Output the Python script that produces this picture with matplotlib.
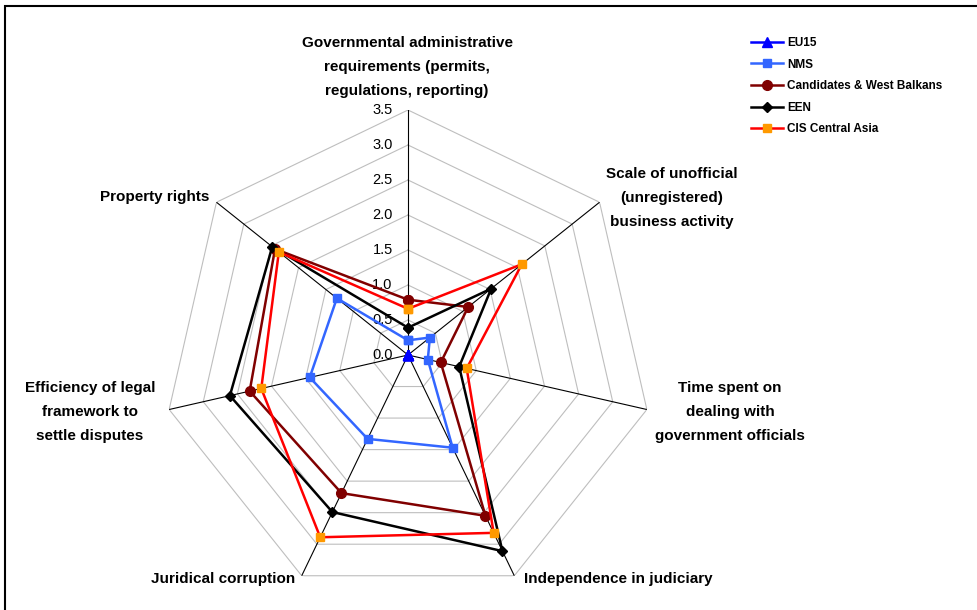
import numpy as np
import matplotlib.pyplot as plt
from matplotlib.patches import Rectangle

plt.rcParams['font.family'] = ['Liberation Sans', 'DejaVu Sans']

categories = [
    'Governmental administrative\nrequirements (permits,\nregulations, reporting)',
    'Scale of unofficial\n(unregistered)\nbusiness activity',
    'Time spent on\ndealing with\ngovernment officials',
    'Independence in judiciary',
    'Juridical corruption',
    'Efficiency of legal\nframework to\nsettle disputes',
    'Property rights',
]

eu15 = [0.0, 0.0, 0.0, 0.0, 0.0, 0.0, 0.0]
nms = [0.21, 0.40, 0.29, 1.47, 1.33, 1.44, 1.30]
candidates = [0.79, 1.10, 0.48, 2.55, 2.19, 2.32, 2.43]
een = [0.39, 1.52, 0.75, 3.11, 2.49, 2.61, 2.48]
cis = [0.66, 2.08, 0.86, 2.82, 2.89, 2.15, 2.36]

series = [
    ('EU15', eu15, '#0000FF', '^', '#0000FF', 7),
    ('NMS', nms, '#3366FF', 's', '#3366FF', 6),
    ('Candidates & West Balkans', candidates, '#800000', 'o', '#800000', 7),
    ('EEN', een, '#000000', 'D', '#000000', 5.5),
    ('CIS Central Asia', cis, '#FF0000', 's', '#FF9900', 6),
]

W, H = 977, 610
fig = plt.figure(figsize=(W / 100, H / 100), dpi=100)

# polar axes centred at (408, 355) px, radius 245 px for 3.5
cx, cy, R = 408, 355, 245
ax = fig.add_axes([(cx - R) / W, (H - cy - R) / H, 2 * R / W, 2 * R / H], projection='polar')
ax.set_theta_zero_location('N')
ax.set_theta_direction(-1)
ax.set_ylim(0, 3.5)
ax.axis('off')

n = len(categories)
theta = np.arange(n) * 2 * np.pi / n
theta_c = np.append(theta, theta[0])

# polygon grid
for r in np.arange(0.5, 3.51, 0.5):
    ax.plot(theta_c, [r] * (n + 1), color='#BEBEBE', lw=0.8, zorder=1)
for t in theta:
    ax.plot([t, t], [0, 3.5], color='black', lw=0.8, zorder=2)

# radial tick labels
for r in np.arange(0, 3.51, 0.5):
    ax.annotate(f'{r:.1f}', xy=(0, r), xytext=(-11, 0), textcoords='offset points',
                ha='right', va='center', fontsize=10.5)

handles = []
for name, vals, col, mk, mcol, ms in series:
    v = np.append(vals, vals[0])
    h, = ax.plot(theta_c, v, color=col, lw=1.8, marker=mk, markersize=ms,
                 markerfacecolor=mcol, markeredgecolor=mcol, label=name,
                 zorder=3, clip_on=False)
    handles.append(h)

# category labels (pixel positions of label centres)
label_pos = [
    (407, 67),
    (672, 198),
    (730, 412),
    (618, 579),
    (223, 579),
    (90, 412),
    (155, 197),
]
for text, (x, y) in zip(categories, label_pos):
    fig.text(x / W, 1 - y / H, text, ha='center', va='center', fontsize=11,
             fontweight='bold', linespacing=1.87, multialignment='center')

fig.legend(handles=handles, loc='upper left', bbox_to_anchor=(751 / W, 1 - 37 / H),
           frameon=False, prop={'size': 8.5, 'weight': 'bold'}, handlelength=2.7,
           handletextpad=0.35, labelspacing=0.81, borderaxespad=0, borderpad=0)

fig.patches.append(Rectangle((5 / W, -0.05), 1.2, 1 - 6 / H + 0.05,
                             transform=fig.transFigure, fill=False,
                             edgecolor='black', lw=1.5))

fig.savefig('out.png', dpi=100)
